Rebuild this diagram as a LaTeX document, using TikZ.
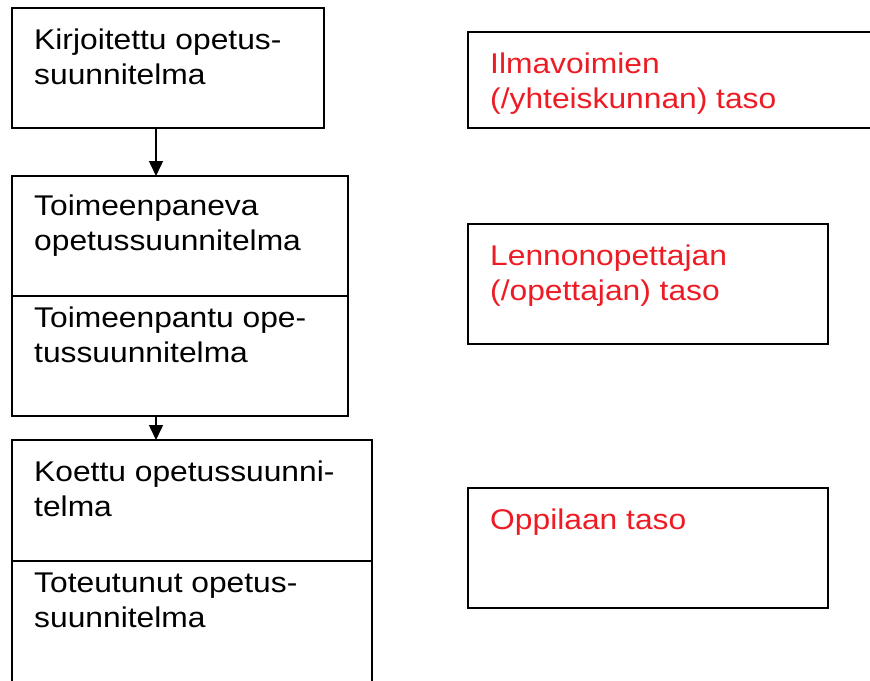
\documentclass[tikz,border=0pt]{standalone}
\usepackage{fontspec}
\setmainfont{Liberation Sans}[FakeStretch=1.115]
\usetikzlibrary{arrows.meta}
\definecolor{levelred}{RGB}{237,28,36}
\tikzset{
  frame/.style={draw=black, line width=1.5pt, rectangle, inner sep=0pt, outer sep=0pt},
  txt/.style={anchor=base west, inner sep=0pt, align=left, font=\fontsize{28.5pt}{35pt}\selectfont},
  redtxt/.style={txt, text=levelred},
  flow/.style={line width=1.5pt, -{Triangle[width=14pt,length=15pt]}}
}
\begin{document}
\begin{tikzpicture}[x=1pt,y=-1pt]
\useasboundingbox (0,0) rectangle (870,680);
\clip (0,0) rectangle (870,680);

% curriculum stages (left column)
\node[frame, minimum width=312pt, minimum height=120pt] (written) at (168,68) {};
\node[frame, minimum width=336pt, minimum height=240pt] (implement) at (180,296) {};
\node[frame, minimum width=360pt, minimum height=242pt] (experience) at (192,561) {};
\draw[line width=1.5pt] (implement.west) -- (implement.east);
\draw[line width=1.5pt] (experience.west) -- (experience.east);

% node base = baseline of the last line
\node[txt] (t1) at ([shift={(22,76)}]written.north west) {Kirjoitettu opetus-\\suunnitelma};
\node[txt] (t2) at ([shift={(22,74)}]implement.north west) {Toimeenpaneva\\opetussuunnitelma};
\node[txt] (t3) at ([shift={(22,66)}]implement.west) {Toimeenpantu ope-\\tussuunnitelma};
\node[txt] (t4) at ([shift={(22,76)}]experience.north west) {Koettu opetussuunni-\\telma};
\node[txt] (t5) at ([shift={(22,66)}]experience.west) {Toteutunut opetus-\\suunnitelma};

% connectors, off-centre under the first box
\coordinate (axis) at ([xshift=144pt]written.south west);
\draw[flow] (axis) -- (axis |- implement.north);
\draw[flow] (axis |- implement.south) -- (axis |- experience.north);

% levels (right column)
\node[frame, minimum width=412pt, minimum height=96pt] (air) at (674,80) {};
\node[frame, minimum width=360pt, minimum height=120pt] (teacher) at (648,284) {};
\node[frame, minimum width=360pt, minimum height=120pt] (pupil) at (648,548) {};

\node[redtxt] (r1) at ([shift={(22,76)}]air.north west) {Ilmavoimien\\(/yhteiskunnan) taso};
\node[redtxt] (r2) at ([shift={(22,76)}]teacher.north west) {Lennonopettajan\\(/opettajan) taso};
\node[redtxt] (r3) at ([shift={(22,41)}]pupil.north west) {Oppilaan taso};
\end{tikzpicture}
\end{document}
